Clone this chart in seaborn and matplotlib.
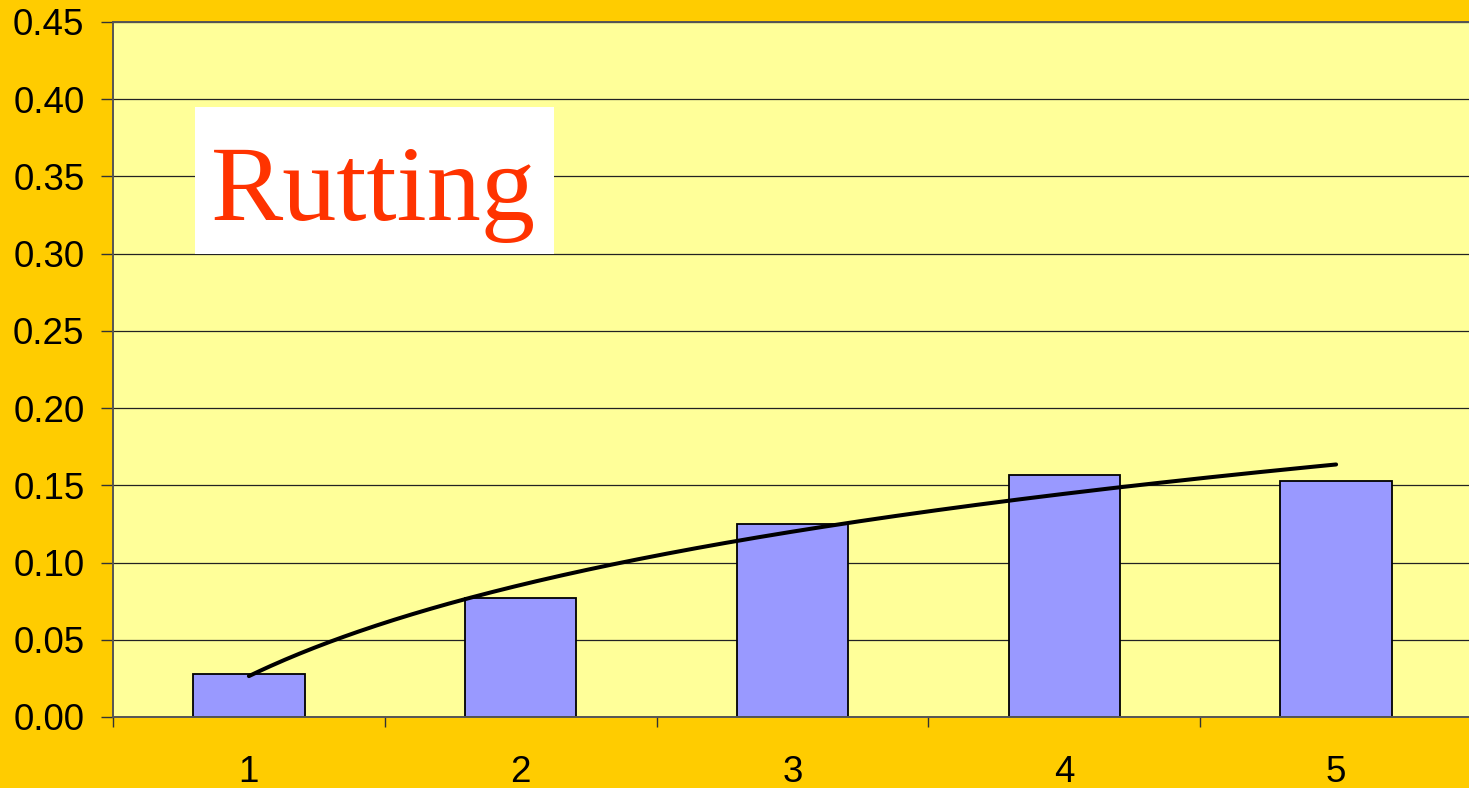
import numpy as np
import pandas as pd
import matplotlib
matplotlib.use("Agg")
import matplotlib.pyplot as plt
from matplotlib.patches import Rectangle
import seaborn as sns

categories = ["1", "2", "3", "4", "5"]
values = [0.028, 0.077, 0.125, 0.157, 0.153]
yticks = [0.00, 0.05, 0.10, 0.15, 0.20, 0.25, 0.30, 0.35, 0.40, 0.45]
title_text = "Rutting"

sns.set_theme(style="white")
plt.rcParams["font.family"] = ["Liberation Sans", "DejaVu Sans"]

W, H = 1469, 788
fig = plt.figure(figsize=(W / 100, H / 100), dpi=100)
fig.patch.set_facecolor("#FFCC00")

ax = fig.add_axes([113 / W, 1 - 717 / H, 1359 / W, 695 / H])
ax.set_facecolor("#FFFF99")

df = pd.DataFrame({"cat": categories, "val": values})
sns.barplot(data=df, x="cat", y="val", color="#9999FF", width=0.41,
            edgecolor="black", linewidth=1.3, saturation=1, ax=ax, zorder=2)

# logarithmic trendline fitted to the data (Excel-style)
xnum = np.arange(1, len(values) + 1)
a, b = np.polyfit(np.log(xnum), np.array(values), 1)
xs = np.linspace(1, len(values), 300)
ax.plot(xs - 1, a * np.log(xs) + b, color="black", lw=2.9, zorder=3,
        solid_capstyle="round")

ax.set_xlim(-0.5, len(values) - 0.5)
ax.set_ylim(0, 0.45)
ax.set_yticks(yticks)
ax.set_yticklabels([f"{t:.2f}" for t in yticks])
ax.set_xlabel("")
ax.set_ylabel("")

ax.set_axisbelow(True)
ax.yaxis.grid(True, color="#222222", lw=0.9)
ax.xaxis.grid(False)

for s in ["left", "bottom", "top"]:
    ax.spines[s].set_visible(True)
    ax.spines[s].set_color("#555555")
    ax.spines[s].set_linewidth(1.4)
ax.spines["right"].set_visible(False)

ax.tick_params(axis="y", length=8.6, width=1, color="#333333", pad=12,
               labelsize=26.5, labelcolor="black", left=True)
# x ticks between categories
ax.set_xticks(np.arange(len(values)))
ax.set_xticklabels(categories)
ax.tick_params(axis="x", length=0, pad=27, labelsize=26.5, labelcolor="black")
ax.set_xticks(np.arange(-0.5, len(values) - 0.4, 1.0), minor=True)
ax.tick_params(axis="x", which="minor", length=7.5, width=1, color="#333333",
               bottom=True)

# title box
fig.patches.append(Rectangle((195 / W, 1 - 254 / H), 359 / W, 147 / H,
                             transform=fig.transFigure, facecolor="white",
                             edgecolor="none", zorder=5))
fig.text(374 / W, 1 - 220 / H, title_text, ha="center", va="baseline",
         fontsize=78, color="#FF3300", family=["Liberation Serif", "DejaVu Serif"],
         zorder=6)

fig.savefig("out.png", dpi=100, facecolor=fig.get_facecolor())
